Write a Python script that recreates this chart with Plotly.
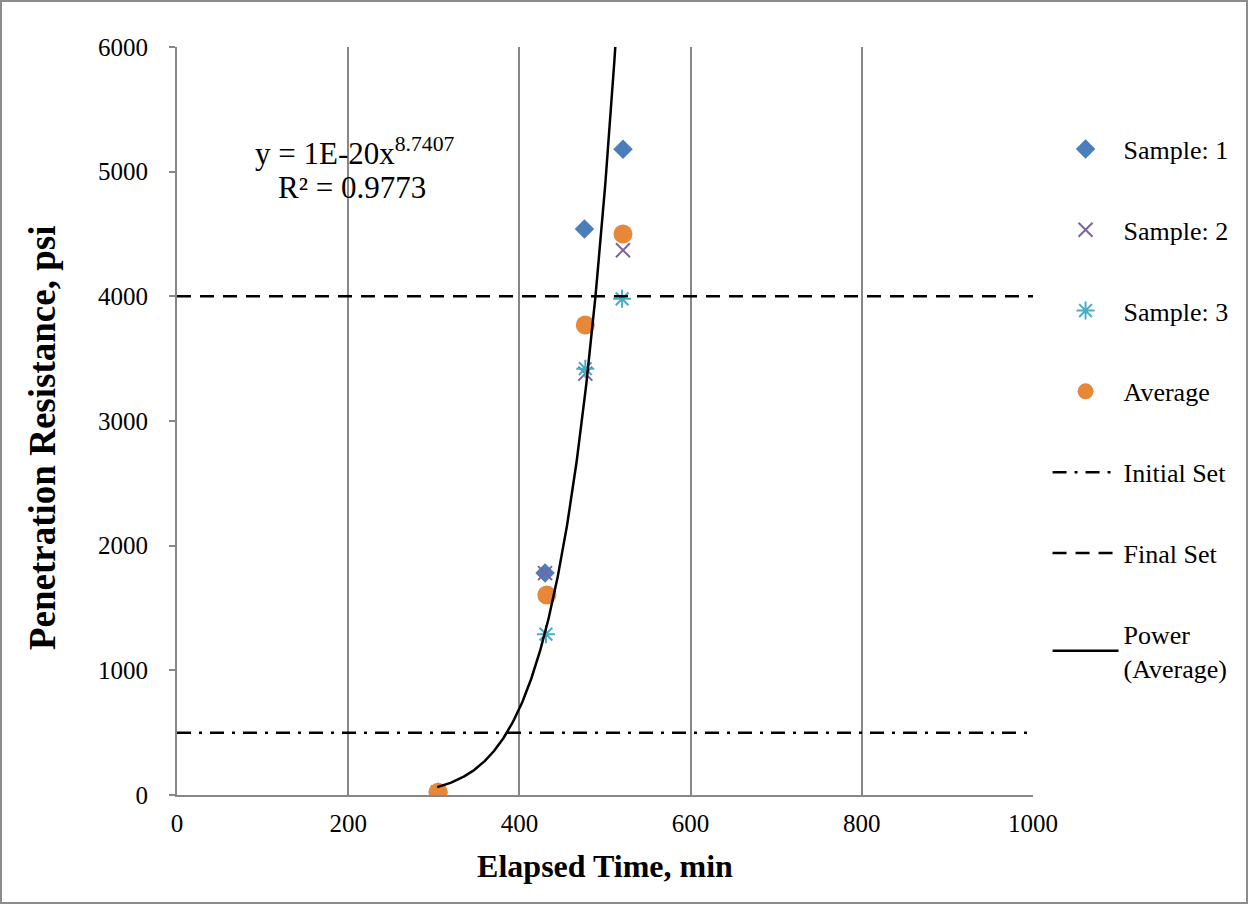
import numpy as np
import plotly.graph_objects as go

# ---- data ----
s1_time = [305, 430, 476, 521]
s1_psi = [25, 1780, 4540, 5180]
s2_time = [305, 430, 477, 521]
s2_psi = [20, 1780, 3380, 4370]
s3_time = [305, 431, 477, 520]
s3_psi = [20, 1290, 3420, 3980]
avg_time = [305, 432, 477, 521]
avg_psi = [22, 1605, 3770, 4500]
initial_set_psi = 500
final_set_psi = 4000
x_span = [0, 1000]
trend_coef = 1.25e-20
trend_exp = 8.7407
trend_x = np.linspace(304, 525, 300)
trend_y = trend_coef * trend_x ** trend_exp

FONT = "Liberation Serif, Times New Roman, serif"
GRID = "#878787"

fig = go.Figure()
fig.add_trace(go.Scatter(x=s1_time, y=s1_psi, mode="markers", name="Sample: 1",
                         marker=dict(symbol="diamond", size=15, color="#4A7EBB"),
                         legendgroup="a"))
fig.add_trace(go.Scatter(x=s2_time, y=s2_psi, mode="markers", name="Sample: 2",
                         marker=dict(symbol="x-thin-open", size=14, color="#7E63A1",
                                     line=dict(width=2, color="#7E63A1")),
                         legendgroup="b"))
fig.add_trace(go.Scatter(x=s3_time, y=s3_psi, mode="markers", name="Sample: 3",
                         marker=dict(symbol="asterisk-open", size=15, color="#4BACC6",
                                     line=dict(width=2, color="#4BACC6")),
                         legendgroup="c"))
fig.add_trace(go.Scatter(x=avg_time, y=avg_psi, mode="markers", name="Average",
                         marker=dict(symbol="circle", size=19, color="#E6873A"),
                         legendgroup="d"))
fig.add_trace(go.Scatter(x=x_span, y=[initial_set_psi] * 2, mode="lines", name="Initial Set",
                         line=dict(color="black", width=2.5, dash="14px,8px,3px,8px"),
                         legendgroup="e"))
fig.add_trace(go.Scatter(x=x_span, y=[final_set_psi] * 2, mode="lines", name="Final Set",
                         line=dict(color="black", width=2.5, dash="14px,9px"),
                         legendgroup="f"))
fig.add_trace(go.Scatter(x=trend_x, y=trend_y, mode="lines", name="Power<br>(Average)",
                         line=dict(color="black", width=2.5),
                         legendgroup="g"))

fig.add_annotation(x=208, y=5160, xref="x", yref="y", showarrow=False,
                   text="y = 1E-20x<sup>8.7407</sup>", font=dict(family=FONT, size=31, color="black"))
fig.add_annotation(x=205, y=4875, xref="x", yref="y", showarrow=False,
                   text="R² = 0.9773", font=dict(family=FONT, size=31, color="black"))
# y-axis title
fig.add_annotation(x=(42 - 177) / 856, y=(795 - 438) / 748, xref="paper", yref="paper",
                   xanchor="center", yanchor="middle",
                   showarrow=False, textangle=-90,
                   text="<b>Penetration Resistance, psi</b>",
                   font=dict(family=FONT, size=37, color="black"))

# outer border
fig.add_shape(type="rect", xref="paper", yref="paper",
              x0=(1 - 177) / 856, x1=(1247 - 177) / 856,
              y0=(795 - 903) / 748, y1=(795 - 1) / 748,
              line=dict(color="#8c8c8c", width=2))

fig.update_layout(
    width=1249, height=904,
    margin=dict(l=177, r=216, t=47, b=109),
    paper_bgcolor="white", plot_bgcolor="white",
    font=dict(family=FONT, color="black"),
    showlegend=True,
    legend=dict(x=1.017, y=0.895, xanchor="left", yanchor="top",
                font=dict(family=FONT, size=26, color="black"),
                itemwidth=66,
                tracegroupgap=44, bgcolor="rgba(0,0,0,0)"),
    xaxis=dict(range=[0, 1000], tickvals=[0, 200, 400, 600, 800, 1000],
               showgrid=True, gridcolor=GRID, gridwidth=1.5,
               showline=True, linecolor=GRID, linewidth=2,
               ticks="", zeroline=False, ticklabelstandoff=5,
               tickfont=dict(family=FONT, size=25, color="black"),
               title=dict(text="<b>Elapsed Time, min</b>", font=dict(family=FONT, size=32, color="black"),
                          standoff=19)),
    yaxis=dict(range=[0, 6000], tickvals=[0, 1000, 2000, 3000, 4000, 5000, 6000],
               showgrid=False, showline=True, linecolor=GRID, linewidth=2,
               ticks="outside", ticklen=6, tickcolor=GRID, tickwidth=2, zeroline=False,
               ticklabelstandoff=16,
               tickfont=dict(family=FONT, size=25, color="black")),
)

fig.write_html("out.html")
